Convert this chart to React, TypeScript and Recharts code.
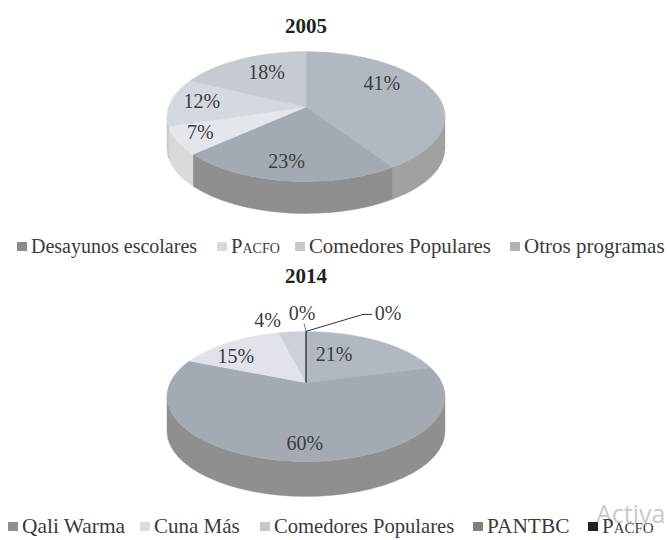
import { Legend, Pie, PieChart } from "recharts"

const names2005 = ["Desayunos escolares", "Pacfo", "Comedores Populares", "Otros 1", "Otros programas"]
const values2005 = [41, 23, 7, 12, 18]
const tops2005 = ["#b1b8c0", "#a4aab2", "#e3e6eb", "#d4d8df", "#c6cad1"]
const sides2005 = ["#a0a1a2", "#8f8f8f", "#d9d9d9", "#c8c8c8", "#bbbbbb"]
const nudges2005 = [[-4, -22], [-9, 6], [-33, -4], [-21, -12], [5, -11]]
const legend2005 = ["Desayunos escolares", "Pacfo", "Comedores Populares", "Otros programas"]
const legendColors2005 = ["#8c8c8c", "#d9d9d9", "#c9c9c9", "#b3b3b3"]
const legendLefts2005 = [17, 217, 295, 510]
const legendSizes2005 = [20, 20.6, 20.8, 21]

const names2014 = ["Qali Warma", "Cuna Más", "Comedores Populares", "PANTBC", "Pacfo", "Otros"]
const values2014 = [21, 60, 15, 4, 0, 0]
const tops2014 = ["#b1b8c0", "#a4aab2", "#e0e3e9", "#ccd0d8", "#555555", "#333333"]
const sides2014 = ["#a0a1a2", "#8f8f8f", "#d9d9d9", "#c8c8c8", "#555555", "#333333"]
const nudges2014 = [[-23, -12], [4, 8], [-15, -11], [-28, -38], [-4, -44], [82, -44]]
const legend2014 = ["Qali Warma", "Cuna Más", "Comedores Populares", "PANTBC", "Pacfo"]
const legendColors2014 = ["#8f8f8f", "#dcdcdc", "#c8c8c8", "#808080", "#222222"]
const legendLefts2014 = [8, 140, 260, 473, 588]
const legendSizes2014 = [21.4, 21, 20.6, 21.4, 21]

const FONT = "'Liberation Serif', serif"
const RX = 139
const RY = 65

const rad = (d: number) => (d * Math.PI) / 180

// point where the ray from the raised apex meets the ellipse of the top face
function rimPoint(cx: number, cy: number, lift: number, clock: number) {
  const sx = Math.sin(rad(clock))
  const sy = -Math.cos(rad(clock))
  const b = sy * (-lift / RY)
  const c = (lift / RY) * (lift / RY) - 1
  const s = -b + Math.sqrt(b * b - c)
  const ex = sx * s
  const ey = -lift / RY + sy * s
  let phi = (Math.atan2(ex, -ey) * 180) / Math.PI
  if (phi < 0) phi += 360
  return { x: cx + ex * RX, y: cy + ey * RY, phi }
}

const onRim = (cx: number, cy: number, phi: number) => ({
  x: cx + RX * Math.sin(rad(phi)),
  y: cy - RY * Math.cos(rad(phi)),
})

function Slice3D(props: any, lift: number, depth: number) {
  const { cx, cy, startAngle, endAngle, fill, side } = props
  const t1 = 90 - startAngle
  const t2 = 90 - endAngle
  const a = rimPoint(cx, cy, lift, t1)
  const b = rimPoint(cx, cy, lift, t2)
  let p1 = a.phi
  let p2 = b.phi
  if (t1 === 0) p1 = 0
  if (t2 >= 360) p2 = 360
  const large = p2 - p1 > 180 ? 1 : 0
  const ax = cx
  const ay = cy - lift

  let wall = null
  const w1 = Math.max(p1, 90)
  const w2 = Math.min(p2, 270)
  if (w2 > w1) {
    const q1 = onRim(cx, cy, w1)
    const q2 = onRim(cx, cy, w2)
    wall = (
      <path
        d={`M${q1.x},${q1.y} A${RX},${RY} 0 0 1 ${q2.x},${q2.y} L${q2.x},${q2.y + depth} A${RX},${RY} 0 0 0 ${q1.x},${q1.y + depth} Z`}
        fill={side}
        stroke={side}
        strokeWidth={0.4}
      />
    )
  }
  const isZero = t2 - t1 === 0
  const s = onRim(cx, cy, p1)
  const e = onRim(cx, cy, p2)
  return (
    <g>
      {wall}
      <path
        d={
          isZero
            ? `M${ax},${ay} L${cx},${cy - RY}`
            : `M${ax},${ay} L${s.x},${s.y} A${RX},${RY} 0 ${large} 1 ${e.x},${e.y} Z`
        }
        fill={fill}
        stroke={fill}
        strokeWidth={isZero ? 1 : 0.4}
      />
    </g>
  )
}

function PctLabel(props: any, nudges: number[][], leader: number) {
  const { cx, cy, midAngle, index, value } = props
  const t = 90 - midAngle
  const x = cx + 0.6 * RX * Math.sin(rad(t)) + nudges[index][0]
  const y = cy - 0.6 * RY * Math.cos(rad(t)) + nudges[index][1]
  return (
    <g key={index}>
      {index === leader && (
        <polyline
          points={`${cx},${cy - RY} ${x - 25},${y + 1} ${x - 16},${y + 1}`}
          fill="none"
          stroke="#333"
          strokeWidth={1}
        />
      )}
      {value === 0 && index !== leader && (
        <line x1={cx} y1={cy - RY} x2={cx - 2} y2={cy - RY - 8} stroke="#777" strokeWidth={1} />
      )}
      <text
        x={x}
        y={y}
        textAnchor="middle"
        dominantBaseline="central"
        fontFamily={FONT}
        fontSize={20}
        fill="#3c3c40"
      >
        {value}%
      </text>
    </g>
  )
}

function LegendRow({ items, colors, lefts, sizes }: { items: string[]; colors: string[]; lefts: number[]; sizes: number[] }) {
  return (
    <div style={{ position: "relative", width: 670, height: 26 }}>
      {items.map((item, i) => (
        <div
          key={item}
          style={{
            position: "absolute",
            left: lefts[i],
            top: 0,
            lineHeight: "26px",
            whiteSpace: "nowrap",
            fontFamily: FONT,
            fontSize: sizes[i],
            color: "#3a3a3e",
          }}
        >
          <span
            style={{
              position: "absolute",
              left: 0,
              top: 9,
              width: 10,
              height: 9,
              background: colors[i],
            }}
          />
          <span
            style={{
              marginLeft: 14,
              fontVariant: item === "Pacfo" ? "small-caps" : "normal",
            }}
          >
            {item}
          </span>
        </div>
      ))}
    </div>
  )
}

type PanelProps = {
  top: number
  height: number
  title: string
  titleY: number
  cy: number
  lift: number
  depth: number
  legendTop: number
  names: string[]
  values: number[]
  fills: string[]
  sides: string[]
  nudges: number[][]
  leader: number
  legend: string[]
  legendColors: string[]
  legendLefts: number[]
  legendSizes: number[]
}

function Panel(p: PanelProps) {
  const table = p.names.map((name, i) => ({
    name,
    value: p.values[i],
    fill: p.fills[i],
    side: p.sides[i],
  }))
  return (
    <div style={{ position: "absolute", left: 0, top: p.top }}>
      <PieChart width={670} height={p.height} margin={{ top: 0, right: 0, bottom: 0, left: 0 }}>
        <text
          x={306}
          y={p.titleY}
          textAnchor="middle"
          dominantBaseline="central"
          fontFamily={FONT}
          fontWeight="bold"
          fontSize={21}
          fill="#222"
        >
          {p.title}
        </text>
        <Pie
          data={table}
          dataKey="value"
          nameKey="name"
          cx={306}
          cy={p.cy}
          outerRadius={RX}
          startAngle={90}
          endAngle={-270}
          stroke="none"
          isAnimationActive={false}
          labelLine={false}
          label={(props: any) => PctLabel(props, p.nudges, p.leader)}
          shape={(props: any) => Slice3D(props, p.lift, p.depth)}
        />
        <Legend
          verticalAlign="bottom"
          wrapperStyle={{ position: "absolute", left: 0, top: p.legendTop, width: 670, height: 26 }}
          content={() => (
            <LegendRow items={p.legend} colors={p.legendColors} lefts={p.legendLefts} sizes={p.legendSizes} />
          )}
        />
      </PieChart>
    </div>
  )
}

export default function App() {
  return (
    <div style={{ position: "absolute", left: 0, top: 0, width: 670, height: 540, overflow: "hidden", background: "#fff" }}>
      <div
        style={{
          position: "absolute",
          left: 596,
          top: 496,
          fontFamily: "'Open Sans', sans-serif",
          fontSize: 25,
          color: "#c9c9c9",
        }}
      >
        Activa
      </div>
      <Panel
        top={0}
        height={262}
        title="2005"
        titleY={26}
        cy={116.5}
        lift={9.5}
        depth={32}
        legendTop={233}
        names={names2005}
        values={values2005}
        fills={tops2005}
        sides={sides2005}
        nudges={nudges2005}
        leader={-1}
        legend={legend2005}
        legendColors={legendColors2005}
        legendLefts={legendLefts2005}
        legendSizes={legendSizes2005}
      />
      <Panel
        top={262}
        height={278}
        title="2014"
        titleY={14}
        cy={134.4}
        lift={13.7}
        depth={35}
        legendTop={251}
        names={names2014}
        values={values2014}
        fills={tops2014}
        sides={sides2014}
        nudges={nudges2014}
        leader={5}
        legend={legend2014}
        legendColors={legendColors2014}
        legendLefts={legendLefts2014}
        legendSizes={legendSizes2014}
      />
    </div>
  )
}
